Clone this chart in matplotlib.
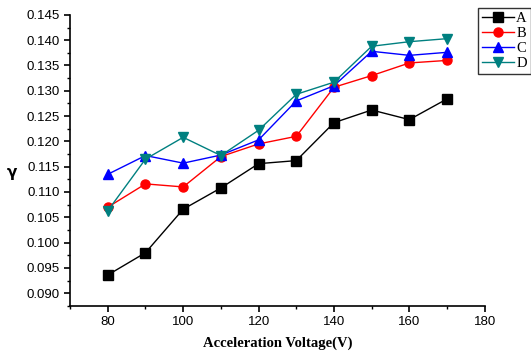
import numpy as np
import matplotlib
matplotlib.use('Agg')
import matplotlib.pyplot as plt
from matplotlib.ticker import MultipleLocator

voltage = [80, 90, 100, 110, 120, 130, 140, 150, 160, 170]
gamma_a = [0.0936, 0.0980, 0.1066, 0.1108, 0.1156, 0.1162, 0.1237, 0.1262, 0.1243, 0.1284]
gamma_b = [0.1070, 0.1116, 0.1110, 0.1170, 0.1195, 0.1210, 0.1307, 0.1330, 0.1355, 0.1360]
gamma_c = [0.1135, 0.1172, 0.1157, 0.1173, 0.1203, 0.1280, 0.1310, 0.1378, 0.1370, 0.1376]
gamma_d = [0.1063, 0.1165, 0.1208, 0.1172, 0.1222, 0.1293, 0.1317, 0.1388, 0.1397, 0.1403]

series = [
    ('A', gamma_a, 'black', 's'),
    ('B', gamma_b, 'red', 'o'),
    ('C', gamma_c, 'blue', '^'),
    ('D', gamma_d, '#008080', 'v'),
]

fig = plt.figure(figsize=(5.31, 3.54), dpi=100)
ax = fig.add_axes([0.132, 0.136, 0.781, 0.822])

for name, vals, col, mk in series:
    ax.plot(voltage, vals, color=col, marker=mk, markersize=6.5, linewidth=1, label=name)

ax.set_xlim(70, 180)
ax.set_ylim(0.0875, 0.145)
ax.xaxis.set_major_locator(MultipleLocator(20))
ax.xaxis.set_minor_locator(MultipleLocator(10))
ax.yaxis.set_major_locator(MultipleLocator(0.005))
ax.yaxis.set_minor_locator(MultipleLocator(0.0025))
ax.yaxis.set_major_formatter(matplotlib.ticker.FormatStrFormatter('%.3f'))

for s in ['top', 'right']:
    ax.spines[s].set_visible(False)
for s in ['left', 'bottom']:
    ax.spines[s].set_linewidth(1.2)
ax.tick_params(which='major', direction='out', length=4, width=1.2, labelsize=9.5)
ax.tick_params(which='minor', direction='out', length=2, width=1)
for lbl in ax.get_xticklabels() + ax.get_yticklabels():
    lbl.set_fontfamily('Liberation Sans')

ax.set_xlabel('Acceleration Voltage(V)', fontfamily='Liberation Serif', fontweight='bold',
              fontsize=10.5, labelpad=6)
fig.text(0.022, 0.512, 'γ', fontfamily='DejaVu Sans', fontweight='bold', fontsize=11, ha='center', va='center')

leg = ax.legend(loc='upper left', bbox_to_anchor=(0.901, 0.977), bbox_transform=fig.transFigure,
                prop={'family': 'Liberation Serif', 'size': 10.5}, frameon=True, fancybox=False,
                edgecolor='black', borderpad=0.25, labelspacing=0.12, handlelength=2.2,
                handletextpad=0.15, borderaxespad=0)
leg.get_frame().set_linewidth(1)

fig.savefig('out.png', dpi=100)
